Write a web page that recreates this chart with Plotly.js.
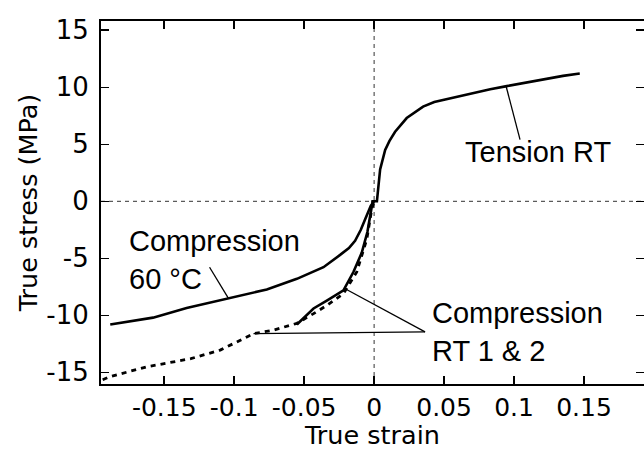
<!DOCTYPE html>
<html>
<head>
<meta charset="utf-8">
<script src="https://cdn.plot.ly/plotly-3.0.1.min.js"></script>
<style>html,body{margin:0;padding:0;background:#fff;}#chart{width:644px;height:450px;}</style>
</head>
<body>
<div id="chart"></div>
<script>
// Tension RT
const tensionStrain = [-0.002, 0.002, 0.0043, 0.0065, 0.0079, 0.011, 0.015, 0.0233, 0.035, 0.043, 0.052, 0.061, 0.071, 0.083, 0.0948, 0.105, 0.116, 0.126, 0.135, 0.147];
const tensionStress = [0, 0, 2.8, 3.9, 4.5, 5.3, 6.1, 7.3, 8.3, 8.7, 8.95, 9.25, 9.53, 9.82, 10.1, 10.33, 10.6, 10.8, 11.0, 11.2];
// Compression 60 °C
const comp60Strain = [-0.1886, -0.158, -0.134, -0.105, -0.0767, -0.0552, -0.0362, -0.0243, -0.018, -0.0136, -0.0095, -0.0064, -0.0024, 0];
const comp60Stress = [-10.8, -10.2, -9.36, -8.55, -7.73, -6.8, -5.78, -4.7, -4.1, -3.46, -2.5, -1.57, -0.41, 0];
// Compression RT 1 (solid)
const compRT1Strain = [-0.0552, -0.0433, -0.0338, -0.0219, -0.0148, -0.0088, -0.0048, -0.0024, -0.001];
const compRT1Stress = [-10.8, -9.4, -8.7, -7.8, -6.2, -4.5, -2.7, -1.0, 0];
// Compression RT 2 (dotted)
const compRT2Strain = [-0.194, -0.1886, -0.162, -0.131, -0.11, -0.0933, -0.086, -0.072, -0.0552, -0.0433, -0.0338, -0.0219, -0.0124, -0.0052, -0.0017, 0];
const compRT2Stress = [-15.65, -15.37, -14.5, -13.8, -13.05, -12.03, -11.6, -11.3, -10.7, -9.85, -9.13, -8.1, -6.2, -3.3, -0.7, 0];

const xTickVals = [-0.15, -0.1, -0.05, 0, 0.05, 0.1, 0.15];
const xTickText = ["-0.15", "-0.1", "-0.05", "0", "0.05", "0.1", "0.15"];
const yTickVals = [-15, -10, -5, 0, 5, 10, 15];
const yTickText = ["-15", "-10", "-5", "0", "5", "10", "15"];

// annotation labels and leader lines (data coordinates)
const labelTexts = ["Tension RT", "Compression<br>60 °C", "Compression<br>RT 1 &amp; 2"];
const labelX = [0.1174, -0.1766, 0.040];
const labelY = [4.3, -5.13, -11.45];
const labelAnchor = ["center", "left", "left"];
const leaderX0 = [0.1043, -0.1176, 0.0364, 0.0364];
const leaderY0 = [5.41, -5.78, -11.45, -11.45];
const leaderX1 = [0.0943, -0.104, -0.0207, -0.0862];
const leaderY1 = [10.11, -8.54, -7.67, -11.6];

const FONT = "Liberation Sans, Arial, Helvetica, sans-serif";
const AXFONT = "DejaVu Sans, Liberation Sans, Arial, sans-serif";

const traces = [
  {x: tensionStrain, y: tensionStress, mode: 'lines', line: {color: '#000', width: 2.6}},
  {x: comp60Strain, y: comp60Stress, mode: 'lines', line: {color: '#000', width: 2.6}},
  {x: compRT2Strain, y: compRT2Stress, mode: 'lines', line: {color: '#000', width: 2.8, dash: '5px,5px'}},
  {x: compRT1Strain, y: compRT1Stress, mode: 'lines', line: {color: '#000', width: 2.6}}
];

const shapes = [
  {type: 'line', xref: 'x', yref: 'paper', x0: 0, x1: 0, y0: 0, y1: 1, line: {color: '#333', width: 1, dash: '4px,4px'}, layer: 'below'},
  {type: 'line', xref: 'paper', yref: 'y', x0: 0, x1: 1, y0: 0, y1: 0, line: {color: '#333', width: 1, dash: '4px,4px'}, layer: 'below'}
];
for (let i = 0; i < leaderX0.length; i++) {
  shapes.push({type: 'line', xref: 'x', yref: 'y', x0: leaderX0[i], y0: leaderY0[i], x1: leaderX1[i], y1: leaderY1[i], line: {color: '#000', width: 1.3}});
}

const annotations = labelTexts.map((t, i) => ({
  text: t, x: labelX[i], y: labelY[i], xref: 'x', yref: 'y', showarrow: false,
  xanchor: labelAnchor[i], yanchor: 'middle', align: 'left',
  font: {family: FONT, size: 29, color: '#000'}
}));

const layout = {
  width: 644, height: 450,
  margin: {l: 101, r: 0, t: 21, b: 66, pad: 0},
  paper_bgcolor: '#fff', plot_bgcolor: '#fff',
  showlegend: false,
  font: {family: FONT, color: '#000'},
  xaxis: {
    range: [-0.1952, 0.1929], tickvals: xTickVals, ticktext: xTickText,
    ticks: 'inside', ticklen: 8, tickwidth: 1.5, tickcolor: '#000',
    showline: true, linewidth: 2, linecolor: '#000', mirror: 'ticks',
    showgrid: false, zeroline: false,
    tickfont: {family: AXFONT, size: 25, color: '#000'},
    title: {text: 'True strain', font: {family: AXFONT, size: 25.5, color: '#000'}, standoff: 1}
  },
  yaxis: {
    range: [-16.02, 15.81], tickvals: yTickVals, ticktext: yTickText,
    ticks: 'inside', ticklen: 8, tickwidth: 1.5, tickcolor: '#000',
    showline: true, linewidth: 2, linecolor: '#000', mirror: 'ticks',
    showgrid: false, zeroline: false, ticklabelstandoff: 5,
    tickfont: {family: AXFONT, size: 26, color: '#000'},
    title: {text: 'True stress (MPa)', font: {family: AXFONT, size: 25.5, color: '#000'}, standoff: 1}
  },
  shapes: shapes,
  annotations: annotations
};

Plotly.newPlot('chart', traces, layout, {displayModeBar: false, staticPlot: true});
</script>
</body>
</html>
